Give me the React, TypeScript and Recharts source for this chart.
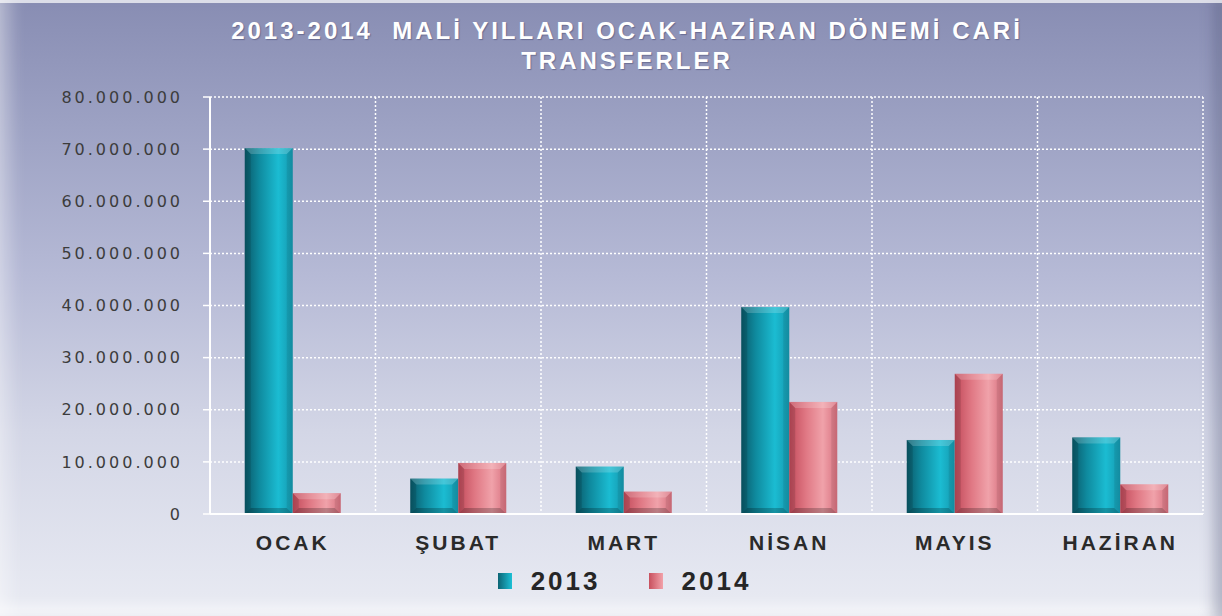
import React from 'react';
import { BarChart, Bar, XAxis, YAxis, CartesianGrid, Legend } from 'recharts';

// months and yearly values (TL)
const months = ['OCAK', 'ŞUBAT', 'MART', 'NİSAN', 'MAYIS', 'HAZİRAN'];
const values2013 = [70200000, 6800000, 9100000, 39700000, 14200000, 14700000];
const values2014 = [4000000, 9800000, 4300000, 21500000, 26900000, 5700000];
const yTicks = [0, 10000000, 20000000, 30000000, 40000000, 50000000, 60000000, 70000000, 80000000];
const seriesNames = ['2013', '2014'];

const data = months.map((m, i) => ({ name: m, y2013: values2013[i], y2014: values2014[i] }));

const fmt = (v: number) => String(v).replace(/\B(?=(\d{3})+(?!\d))/g, '.');

const BevelBar = (props: any) => {
  const { x, y, width, height, gradId } = props;
  if (!height || height <= 0) return null;
  const b = Math.min(6, height / 3, width / 4);
  return (
    <g>
      <rect x={x} y={y} width={width} height={height} fill={`url(#${gradId})`} />
      {/* top bevel */}
      <polygon
        points={`${x},${y} ${x + width},${y} ${x + width - b},${y + b} ${x + b},${y + b}`}
        fill="rgba(255,255,255,0.18)"
      />
      {/* bottom bevel */}
      <polygon
        points={`${x},${y + height} ${x + width},${y + height} ${x + width - b},${y + height - b} ${x + b},${y + height - b}`}
        fill="rgba(0,0,0,0.22)"
      />
      {/* left bevel */}
      <polygon
        points={`${x},${y} ${x + b},${y + b} ${x + b},${y + height - b} ${x},${y + height}`}
        fill="rgba(0,0,0,0.12)"
      />
      {/* right bevel */}
      <polygon
        points={`${x + width},${y} ${x + width - b},${y + b} ${x + width - b},${y + height - b} ${x + width},${y + height}`}
        fill="rgba(0,0,0,0.08)"
      />
    </g>
  );
};

const legendColors: Record<string, string> = {
  '2013': 'linear-gradient(to right, #0c6474, #1cc0d6)',
  '2014': 'linear-gradient(to right, #c8505e, #f2a2aa)',
};

const LegendContent = () => (
  <div style={{ display: 'flex', justifyContent: 'center', height: 46, paddingLeft: 94, boxSizing: 'border-box' }}>
    {seriesNames.map((s) => (
      <div key={s} style={{ display: 'flex', alignItems: 'center', marginRight: 48, marginTop: -4, height: 30 }}>
        <span style={{ display: 'inline-block', width: 14, height: 16, background: legendColors[s], marginRight: 19 }} />
        <span style={{ fontFamily: '"Liberation Sans", Arial, sans-serif', fontWeight: 'bold', fontSize: 26, letterSpacing: 3, color: '#262626' }}>{s}</span>
      </div>
    ))}
  </div>
);

const App = () => {
  return (
    <div
      style={{
        position: 'absolute',
        left: 0,
        top: 0,
        width: 1222,
        height: 616,
        background: 'linear-gradient(to bottom, #888db3 0%, #9ca1c3 20%, #b6bad6 45%, #d3d6e6 70%, #e9ebf3 100%)',
        boxShadow:
          'inset 0 3px 0 rgba(255,255,255,0.7), inset 18px 0 16px -8px rgba(255,255,255,0.35), inset -16px 0 14px -8px rgba(70,74,110,0.35), inset 0 -18px 14px -8px rgba(255,255,255,0.55)',
        overflow: 'hidden',
      }}
    >
      <div
        style={{
          position: 'absolute',
          top: 16,
          left: 16,
          width: 1222,
          textAlign: 'center',
          color: '#ffffff',
          fontFamily: '"Liberation Sans", Arial, sans-serif',
          fontWeight: 'bold',
          fontSize: 24,
          lineHeight: '30px',
          letterSpacing: 3,
          textShadow: '1px 1px 1px rgba(60,60,100,0.45)',
        }}
      >
        2013-2014&nbsp; MALİ YILLARI OCAK-HAZİRAN DÖNEMİ CARİ
        <br />
        TRANSFERLER
      </div>
      <BarChart
        width={1222}
        height={616}
        data={data}
        margin={{ top: 97, right: 19, bottom: 0, left: 0 }}
        barCategoryGap="21%"
        barGap={0}
        style={{ position: 'absolute', left: 0, top: 0 }}
      >
        <defs>
          <linearGradient id="g2013" x1="0" y1="0" x2="1" y2="0">
            <stop offset="0%" stopColor="#0a5a6a" />
            <stop offset="30%" stopColor="#0f8a9e" />
            <stop offset="70%" stopColor="#1bbcd2" />
            <stop offset="100%" stopColor="#1598ae" />
          </linearGradient>
          <linearGradient id="g2014" x1="0" y1="0" x2="1" y2="0">
            <stop offset="0%" stopColor="#c24a5a" />
            <stop offset="35%" stopColor="#e07884" />
            <stop offset="70%" stopColor="#f0a2aa" />
            <stop offset="100%" stopColor="#d8707e" />
          </linearGradient>
        </defs>
        <CartesianGrid
          stroke="#ffffff"
          strokeDasharray="2 2"
          strokeWidth={1.5}
          verticalCoordinatesGenerator={({ offset }: any) =>
            months.map((_, i) => offset.left + ((i + 1) * offset.width) / months.length)
          }
        />
        <XAxis
          dataKey="name"
          height={56}
          axisLine={{ stroke: '#ffffff', strokeWidth: 2 }}
          tickLine={false}
          tickSize={0}
          tickMargin={21}
          tick={{ fill: '#2a2a2a', fontSize: 21, fontWeight: 'bold', fontFamily: '"Liberation Sans", Arial, sans-serif', letterSpacing: 3 }}
        />
        <YAxis
          width={210}
          domain={[0, 80000000]}
          ticks={yTicks}
          interval={0}
          tickFormatter={fmt}
          axisLine={{ stroke: '#ffffff', strokeWidth: 2 }}
          tickLine={{ stroke: '#ffffff', strokeWidth: 1.5 }}
          tickSize={7}
          tickMargin={20}
          tick={{ fill: '#3c3c3c', fontSize: 16, fontFamily: '"DejaVu Sans", sans-serif', letterSpacing: 3 }}
        />
        <Legend verticalAlign="bottom" height={46} content={<LegendContent />} />
        <Bar dataKey="y2013" name="2013" isAnimationActive={false} shape={(p: any) => <BevelBar {...p} gradId="g2013" />} />
        <Bar dataKey="y2014" name="2014" isAnimationActive={false} shape={(p: any) => <BevelBar {...p} gradId="g2014" />} />
      </BarChart>
    </div>
  );
};

export default App;
